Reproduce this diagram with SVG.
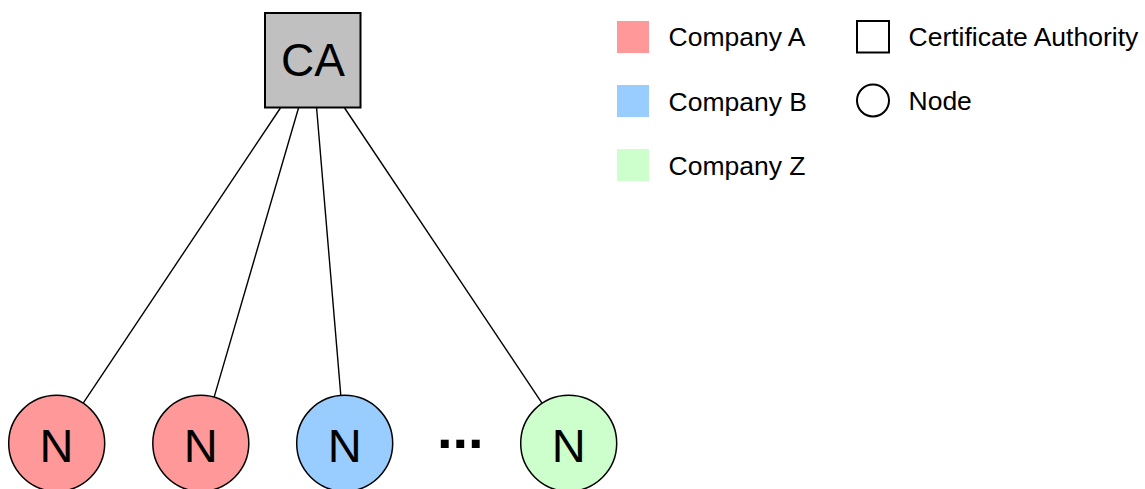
<svg xmlns="http://www.w3.org/2000/svg" width="1145" height="489" viewBox="0 0 1145 489">
<style>
.t{font-family:"Liberation Sans",Arial,sans-serif;fill:#000}
.lbl{font-size:26.5px}
.big{font-size:47px;text-anchor:middle}
.node{stroke:#000;stroke-width:1.5}
.edge{stroke:#000;stroke-width:1.4;fill:none}
</style>
<rect width="1145" height="489" fill="#fff"/>
<g id="connectors">
<line class="edge" x1="83.2" y1="403.1" x2="280.4" y2="108"/>
<line class="edge" x1="214.2" y1="396.9" x2="298.5" y2="108"/>
<line class="edge" x1="340.8" y1="395.2" x2="316.6" y2="108"/>
<line class="edge" x1="542" y1="403.1" x2="344.6" y2="108"/>
</g>
<g id="ca">
<rect x="265" y="13" width="95.5" height="94.5" fill="#c0c0c0" stroke="#000" stroke-width="2"/>
<text class="t big" x="313" y="76" style="font-size:46px">CA</text>
</g>
<g id="n1">
<circle class="node" cx="56.7" cy="443.3" r="48" fill="#ff9999"/>
<text class="t big" x="56.5" y="461.5">N</text>
</g>
<g id="n2">
<circle class="node" cx="200.8" cy="443.3" r="48" fill="#ff9999"/>
<text class="t big" x="200.8" y="461.5">N</text>
</g>
<g id="n3">
<circle class="node" cx="344.7" cy="443.3" r="48" fill="#99ccff"/>
<text class="t big" x="344.7" y="461.5">N</text>
</g>
<g id="ellipsis">
<text class="t" x="437" y="448" style="font-size:56px;font-weight:bold">...</text>
</g>
<g id="n4">
<circle class="node" cx="568.7" cy="443.3" r="48" fill="#ccffcc"/>
<text class="t big" x="568.7" y="461.5">N</text>
</g>
<g id="legend">
<rect x="617" y="21" width="32" height="32" fill="#ff9999"/>
<text class="t lbl" x="668.5" y="46">Company A</text>
<rect x="617" y="85" width="32" height="32" fill="#99ccff"/>
<text class="t lbl" x="668.5" y="111">Company B</text>
<rect x="617" y="149" width="32" height="32" fill="#ccffcc"/>
<text class="t lbl" x="668.5" y="175">Company Z</text>
<rect x="857" y="21" width="32" height="31.5" fill="#fff" stroke="#000" stroke-width="2"/>
<text class="t lbl" x="908.5" y="46">Certificate Authority</text>
<circle cx="873" cy="100.5" r="16" fill="#fff" stroke="#000" stroke-width="2"/>
<text class="t lbl" x="908.5" y="110">Node</text>
</g>
</svg>
